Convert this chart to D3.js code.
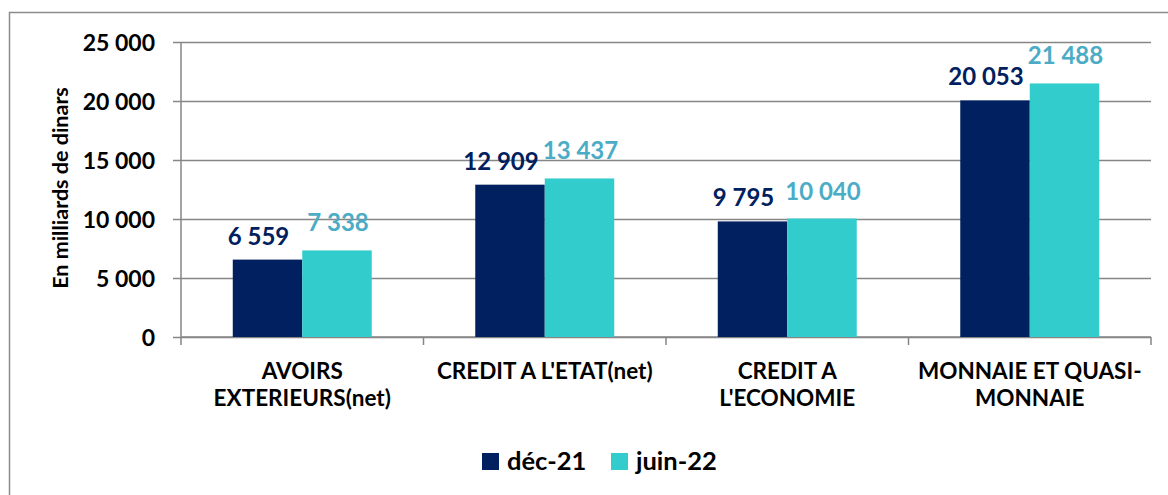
<!DOCTYPE html>
<html><head><meta charset="utf-8">
<script src="https://cdn.jsdelivr.net/npm/d3@7"></script>
<style>
html,body{margin:0;padding:0;background:#fff;}
svg{display:block;font-family:Lato, "Open Sans", sans-serif;font-weight:bold;}
</style></head>
<body><svg id="c" width="1168" height="495"></svg>
<script>
const categories = [["AVOIRS","EXTERIEURS(net)"],["CREDIT A L'ETAT(net)"],["CREDIT A","L'ECONOMIE"],["MONNAIE ET QUASI-","MONNAIE"]];
const seriesNames = ["déc-21","juin-22"];
const dec21 = [6559, 12909, 9795, 20053];
const juin22 = [7338, 13437, 10040, 21488];
const yTicks = [0, 5000, 10000, 15000, 20000, 25000];
const colors = ["#002060", "#33CCCC"];
const labelColors = ["#002060", "#4BACC6"];
const yTitle = "En milliards de dinars";

const svg = d3.select("#c");
const fmt = v => d3.format(",")(v).replace(/,/g, " ");
const catIdx = categories.map((c,i)=>i);
const series = [dec21, juin22];

svg.append("rect").attr("x",9.5).attr("y",12.5).attr("width",1200).attr("height",600)
  .attr("fill","none").attr("stroke","#8c8c8c").attr("stroke-width",1.5);

const L = 181, R = 1151, T = 42, B = 337;
const y = d3.scaleLinear().domain([0,25000]).range([B,T]);
const x = d3.scaleBand().domain(catIdx).range([L,R]).paddingInner(0).paddingOuter(0);
const x1 = d3.scaleBand().domain([0,1]).range([0,x.bandwidth()]).paddingInner(0).paddingOuter(0.745);

// gridlines + y axis
const yAxis = d3.axisLeft(y).tickValues(yTicks).tickSize(-(R-L)).tickFormat(fmt).tickPadding(26);
const gy = svg.append("g").attr("transform",`translate(${L},0)`).call(yAxis);
gy.select(".domain").remove();
gy.selectAll(".tick line").attr("stroke","#868686").attr("stroke-width",1.5).attr("x1",-8);
gy.selectAll(".tick text").attr("font-size",23).attr("font-family","Lato").attr("font-weight","bold").attr("fill","#000").attr("dy","0.35em");
svg.append("line").attr("x1",L).attr("x2",L).attr("y1",T).attr("y2",B).attr("stroke","#868686").attr("stroke-width",1.5);

// x axis
const bounds = catIdx.map(i=>x(i)).concat([R]);
svg.append("line").attr("x1",L).attr("x2",R).attr("y1",B).attr("y2",B).attr("stroke","#868686").attr("stroke-width",1.5);
svg.selectAll(".xt").data(bounds).enter().append("line")
  .attr("x1",d=>d).attr("x2",d=>d).attr("y1",B).attr("y2",B+8).attr("stroke","#868686").attr("stroke-width",1.5);

// bars
series.forEach((vals, s) => {
  svg.selectAll(".bar"+s).data(vals).enter().append("rect")
    .attr("x",(d,i)=>x(i)+x1(s)).attr("width",x1.bandwidth())
    .attr("y",d=>y(d)).attr("height",d=>B-y(d)).attr("fill",colors[s]);
});
// labels
const lblDx = [-9, 1], lblDy = [-15, -19];
series.forEach((vals, s) => {
  svg.selectAll(".lbl"+s).data(vals).enter().append("text")
    .attr("x",(d,i)=>x(i)+x1(s)+x1.bandwidth()/2+lblDx[s]).attr("y",d=>y(d)+lblDy[s])
    .attr("text-anchor","middle").attr("font-size",24).attr("fill",labelColors[s]).text(d=>fmt(d));
});

// category labels
categories.forEach((lines,i)=>{
  lines.forEach((ln,k)=>svg.append("text").attr("x",x(i)+x.bandwidth()/2).attr("y",379+k*27)
    .attr("text-anchor","middle").attr("font-size",22.5).attr("fill","#000").text(ln));
});

// y title
svg.append("text").attr("transform","translate(68,188) rotate(-90)").attr("text-anchor","middle")
  .attr("font-size",21.5).attr("fill","#000").text(yTitle);

// legend
const leg = [{x:482},{x:611}];
seriesNames.forEach((n,s)=>{
  svg.append("rect").attr("x",leg[s].x).attr("y",453).attr("width",17).attr("height",17).attr("fill",colors[s]);
  svg.append("text").attr("x",leg[s].x+25).attr("y",470).attr("font-size",25.5).attr("fill","#000").text(n);
});
</script></body></html>
